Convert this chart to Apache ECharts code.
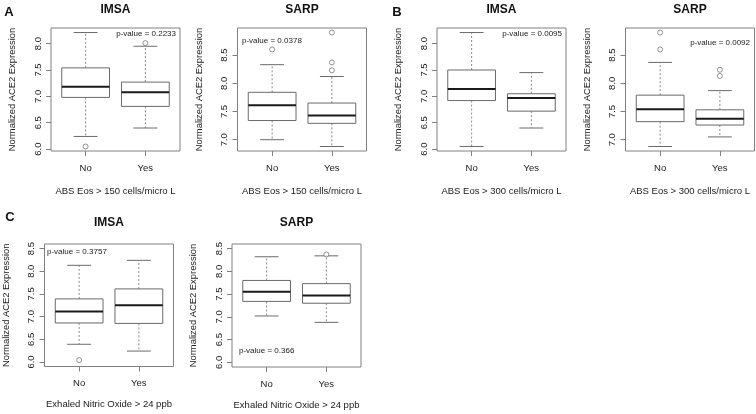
<!DOCTYPE html>
<html><head><meta charset="utf-8">
<script src="https://cdn.jsdelivr.net/npm/echarts@6/dist/echarts.min.js"></script>
<style>html,body{margin:0;padding:0;background:#fff}#c{width:756px;height:414px}</style>
</head><body><div id="c"></div>
<script>
// ---- data ----
const groups = ['No', 'Yes'];
// five-number summaries: [lower whisker, Q1, median, Q3, upper whisker]
const aImsaNo  = [6.24, 6.98, 7.18, 7.54, 8.21];
const aImsaYes = [6.40, 6.81, 7.08, 7.27, 7.95];
const aImsaOutNo  = [6.05];
const aImsaOutYes = [8.01];
const aSarpNo  = [7.00, 7.34, 7.61, 7.84, 8.33];
const aSarpYes = [6.88, 7.29, 7.43, 7.65, 8.12];
const aSarpOutNo  = [8.60];
const aSarpOutYes = [8.23, 8.37, 8.90];
const bImsaNo  = [6.05, 6.92, 7.14, 7.50, 8.21];
const bImsaYes = [6.40, 6.72, 6.97, 7.05, 7.45];
const bImsaOutNo  = [];
const bImsaOutYes = [];
const bSarpNo  = [6.88, 7.32, 7.54, 7.79, 8.37];
const bSarpYes = [7.05, 7.26, 7.37, 7.53, 7.87];
const bSarpOutNo  = [8.60, 8.90];
const bSarpOutYes = [8.13, 8.24];
const cImsaNo  = [6.39, 6.86, 7.11, 7.39, 8.13];
const cImsaYes = [6.24, 6.85, 7.25, 7.61, 8.24];
const cImsaOutNo  = [6.04];
const cImsaOutYes = [];
const cSarpNo  = [7.02, 7.34, 7.55, 7.80, 8.32];
const cSarpYes = [6.88, 7.30, 7.47, 7.73, 8.34];
const cSarpOutNo  = [];
const cSarpOutYes = [8.37];

const ticksImsa = [6.0, 6.5, 7.0, 7.5, 8.0];
const ticksSarp = [7.0, 7.5, 8.0, 8.5];
const ticksEno  = [6.0, 6.5, 7.0, 7.5, 8.0, 8.5];

const pA1 = 'p-value = 0.2233';
const pA2 = 'p-value = 0.0378';
const pB1 = 'p-value = 0.0095';
const pB2 = 'p-value = 0.0092';
const pC1 = 'p-value = 0.3757';
const pC2 = 'p-value = 0.366';

const xName150 = 'ABS Eos > 150 cells/micro L';
const xName300 = 'ABS Eos > 300 cells/micro L';
const xNameEno = 'Exhaled Nitric Oxide > 24 ppb';
const yName = 'Normalized ACE2 Expression';

// ---- layout ----
const FONT = '"Liberation Sans", Arial, sans-serif';
const panels = [
  {title:'IMSA', no:aImsaNo, yes:aImsaYes, outNo:aImsaOutNo, outYes:aImsaOutYes, ticks:ticksImsa, ymin:5.964, ymax:8.296, xName:xName150, p:pA1,
   grid:{left:51, top:28, width:129, height:123}, pPos:[176, 34, 'right'], nameGapX:35},
  {title:'SARP', no:aSarpNo, yes:aSarpYes, outNo:aSarpOutNo, outYes:aSarpOutYes, ticks:ticksSarp, ymin:6.80, ymax:8.98, xName:xName150, p:pA2,
   grid:{left:237.5, top:28, width:129, height:123}, pPos:[242, 41, 'left'], nameGapX:35},
  {title:'IMSA', no:bImsaNo, yes:bImsaYes, outNo:bImsaOutNo, outYes:bImsaOutYes, ticks:ticksImsa, ymin:5.964, ymax:8.296, xName:xName300, p:pB1,
   grid:{left:437, top:28, width:129, height:123}, pPos:[562, 34, 'right'], nameGapX:35},
  {title:'SARP', no:bSarpNo, yes:bSarpYes, outNo:bSarpOutNo, outYes:bSarpOutYes, ticks:ticksSarp, ymin:6.80, ymax:8.98, xName:xName300, p:pB2,
   grid:{left:625.5, top:28, width:129, height:123}, pPos:[750, 43, 'right'], nameGapX:35},
  {title:'IMSA', no:cImsaNo, yes:cImsaYes, outNo:cImsaOutNo, outYes:cImsaOutYes, ticks:ticksEno, ymin:5.9, ymax:8.6, xName:xNameEno, p:pC1,
   grid:{left:44.5, top:244, width:129, height:122.5}, pPos:[47, 252, 'left'], nameGapX:33},
  {title:'SARP', no:cSarpNo, yes:cSarpYes, outNo:cSarpOutNo, outYes:cSarpOutYes, ticks:ticksEno, ymin:5.9, ymax:8.6, xName:xNameEno, p:pC2,
   grid:{left:232, top:244, width:129, height:123}, pPos:[239, 351, 'left'], nameGapX:33}
];

const letters = [['A', 9, 12], ['B', 397, 12], ['C', 10, 217]];

function renderBox(params, api) {
  const x = api.value(0);
  const v = [api.value(1), api.value(2), api.value(3), api.value(4), api.value(5)];
  const w = api.size([0.8, 0])[0];
  const pts = v.map(val => api.coord([x, val]));
  const cx = pts[0][0];
  const ys = pts.map(q => q[1]);
  const stroke = '#6a6a6a';
  const dashed = {stroke: '#888', lineWidth: 1, lineDash: [2, 2]};
  const solid = {stroke: stroke, lineWidth: 1};
  return {type: 'group', children: [
    {type: 'line', shape: {x1: cx, y1: ys[3], x2: cx, y2: ys[4]}, style: dashed},
    {type: 'line', shape: {x1: cx, y1: ys[1], x2: cx, y2: ys[0]}, style: dashed},
    {type: 'line', shape: {x1: cx - w / 4, y1: ys[4], x2: cx + w / 4, y2: ys[4]}, style: solid},
    {type: 'line', shape: {x1: cx - w / 4, y1: ys[0], x2: cx + w / 4, y2: ys[0]}, style: solid},
    {type: 'rect', shape: {x: cx - w / 2, y: ys[3], width: w, height: ys[1] - ys[3]}, style: {fill: '#fff', stroke: stroke, lineWidth: 1}},
    {type: 'line', shape: {x1: cx - w / 2, y1: ys[2], x2: cx + w / 2, y2: ys[2]}, style: {stroke: '#1a1a1a', lineWidth: 2}}
  ]};
}

const grid = [], xAxis = [], yAxis = [], series = [], graphic = [];
panels.forEach((pn, i) => {
  grid.push(Object.assign({show: true, borderColor: '#808080', borderWidth: 1, backgroundColor: 'transparent'}, pn.grid));
  xAxis.push({
    type: 'value', gridIndex: i, min: 0.42, max: 2.58,
    splitLine: {show: false}, axisLine: {show: false},
    axisTick: {show: true, customValues: [1, 2], length: 5, lineStyle: {color: '#808080'}},
    axisLabel: {customValues: [1, 2], formatter: v => groups[Math.round(v) - 1], margin: 12, fontSize: 9.5, color: '#1a1a1a', fontFamily: FONT},
    name: pn.xName, nameLocation: 'middle', nameGap: pn.nameGapX,
    nameTextStyle: {fontSize: 9.5, color: '#1a1a1a', fontFamily: FONT}
  });
  yAxis.push({
    type: 'value', gridIndex: i, min: pn.ymin, max: pn.ymax,
    splitLine: {show: false}, axisLine: {show: false},
    axisTick: {show: true, customValues: pn.ticks, length: 5, lineStyle: {color: '#808080'}},
    axisLabel: {customValues: pn.ticks, rotate: 90, formatter: v => v.toFixed(1), margin: 8, fontSize: 9.5, color: '#1a1a1a', fontFamily: FONT},
    name: yName, nameLocation: 'middle', nameGap: 34,
    nameTextStyle: {fontSize: 9.4, color: '#1a1a1a', fontFamily: FONT}
  });
  series.push({
    type: 'custom', xAxisIndex: i, yAxisIndex: i, renderItem: renderBox,
    encode: {x: 0, y: [1, 2, 3, 4, 5]},
    data: [[1].concat(pn.no), [2].concat(pn.yes)], silent: true
  });
  series.push({
    type: 'scatter', xAxisIndex: i, yAxisIndex: i, symbol: 'circle', symbolSize: 5,
    itemStyle: {color: '#fff', borderColor: '#777', borderWidth: 1},
    data: pn.outNo.map(v => [1, v]).concat(pn.outYes.map(v => [2, v])), silent: true, z: 5
  });
  const cx = pn.grid.left + pn.grid.width / 2;
  const ty = pn.grid.top < 100 ? 10 : 223;
  graphic.push({type: 'text', x: cx, y: ty, style: {text: pn.title, font: 'bold 12px ' + FONT, fill: '#111', textAlign: 'center', textVerticalAlign: 'middle'}});
  graphic.push({type: 'text', x: pn.pPos[0], y: pn.pPos[1], style: {text: pn.p, font: '8px ' + FONT, fill: '#1a1a1a', textAlign: pn.pPos[2], textVerticalAlign: 'middle'}});
});
letters.forEach(l => {
  graphic.push({type: 'text', x: l[1], y: l[2], style: {text: l[0], font: 'bold 13px ' + FONT, fill: '#111', textAlign: 'center', textVerticalAlign: 'middle'}});
});

const chart = echarts.init(document.getElementById('c'), null, {renderer: 'canvas'});
chart.setOption({animation: false, backgroundColor: '#fff', grid, xAxis, yAxis, series, graphic});
</script>
</body></html>
